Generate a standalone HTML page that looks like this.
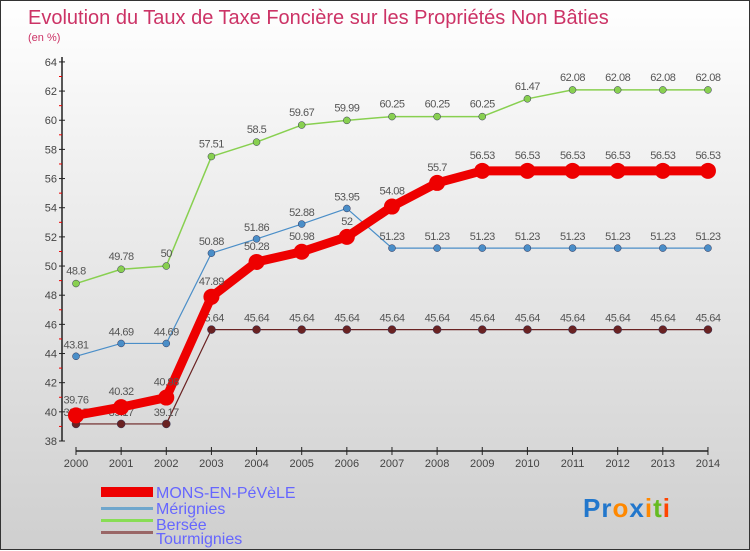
<!DOCTYPE html>
<html><head><meta charset="utf-8"><style>
body{margin:0;width:750px;height:550px;overflow:hidden;font-family:"Liberation Sans",sans-serif}
#wrap{position:relative;width:748px;height:548px;border:1px solid #333;background:linear-gradient(#ffffff,#f0f0f0 30%,#cfcfcf)}
svg{position:absolute;left:0;top:0}
</style></head><body>
<div id="wrap">
<svg id="c" width="750" height="550">
<text x="27" y="23" font-size="20" fill="#cc3366">Evolution du Taux de Taxe Foncière sur les Propriétés Non Bâties</text>
<text x="27" y="40" font-size="11" fill="#cc3366">(en %)</text>
<g>
<rect x="100" y="486" width="52" height="10" fill="#ee0000"/>
<text x="155" y="497" font-size="16" fill="#6666ff">MONS-EN-PéVèLE</text>
<rect x="100" y="506" width="52" height="3" fill="#6fa6cc"/>
<text x="155" y="513" font-size="16" fill="#6666ff">Mérignies</text>
<rect x="100" y="518" width="52" height="3" fill="#88dd55"/>
<text x="155" y="529" font-size="16" fill="#6666ff">Bersée</text>
<rect x="100" y="530" width="52" height="3" fill="#996666"/>
<text x="155" y="543" font-size="16" fill="#6666ff">Tourmignies</text>
</g>
<text x="582" y="516" font-size="26" font-weight="bold" letter-spacing="1"><tspan fill="#2277cc">Pr</tspan><tspan fill="#ff8800">o</tspan><tspan fill="#2277cc">x</tspan><tspan fill="#ff8800">i</tspan><tspan fill="#66bb22">t</tspan><tspan fill="#ff4400">i</tspan></text>
</svg>
</div>
<script>
const years=[2000,2001,2002,2003,2004,2005,2006,2007,2008,2009,2010,2011,2012,2013,2014];
const yTicks=[38,40,42,44,46,48,50,52,54,56,58,60,62,64];
const mons=[39.76,40.32,40.98,47.89,50.28,50.98,52,54.08,55.7,56.53,56.53,56.53,56.53,56.53,56.53];
const merignies=[43.81,44.69,44.69,50.88,51.86,52.88,53.95,51.23,51.23,51.23,51.23,51.23,51.23,51.23,51.23];
const bersee=[48.8,49.78,50,57.51,58.5,59.67,59.99,60.25,60.25,60.25,61.47,62.08,62.08,62.08,62.08];
const tourmignies=[39.17,39.17,39.17,45.64,45.64,45.64,45.64,45.64,45.64,45.64,45.64,45.64,45.64,45.64,45.64];
const svg=document.getElementById('c');const NS='http://www.w3.org/2000/svg';
const X=i=>75+i*45.14;const Y=v=>440-(v-38)*14.58;
function mk(t,a){const e=document.createElementNS(NS,t);for(const k in a)e.setAttribute(k,a[k]);svg.appendChild(e);return e;}
let e=mk('line',{x1:61,y1:56,x2:61,y2:440,stroke:'#222','stroke-width':1.5});


e=mk('line',{x1:75,y1:450,x2:707,y2:450,stroke:'#222','stroke-width':1.5});


yTicks.forEach((t,i)=>{
 mk('line',{x1:58,x2:64,y1:Y(t),y2:Y(t),stroke:'#222'});
 if(i<yTicks.length-1)mk('line',{x1:58,x2:61,y1:Y(t+1),y2:Y(t+1),stroke:'#e00'});
 const l=mk('text',{x:56,y:Y(t)+4,'font-size':11,'text-anchor':'end',fill:'#444'});l.textContent=t;
 
 
});
years.forEach((yr,i)=>{
 mk('line',{x1:X(i),x2:X(i),y1:446,y2:454,stroke:'#222'});
 const l=mk('text',{x:X(i),y:466,'font-size':11,'text-anchor':'middle',fill:'#444'});l.textContent=yr;
 
 
});
function series(d,name,col,w,r,off){
 const p=mk('polyline',{points:d.map((v,i)=>X(i)+','+Y(v)).join(' '),fill:'none',stroke:col,'stroke-width':w,'stroke-linejoin':'round'});
 
 
 d.forEach((v,i)=>{
  const c=mk('circle',{cx:X(i),cy:Y(v),r:r,fill:col,stroke:w>3?col:'#335',"stroke-width":w>3?0:0.5});
  
  
  const t=mk('text',{x:X(i),y:Y(v)+off,'font-size':11,'text-anchor':'middle',fill:'#555','letter-spacing':'-0.5'});t.textContent=v;
  
  
 });
}
series(tourmignies,'tourmignies','#6a2222',1.2,4,-8);
series(merignies,'merignies','#4a8ec8',1.2,3.5,-8);
series(bersee,'bersee','#88d050',1.5,3.5,-9);
series(mons,'mons','#ee0000',9,8,-12);
</script>
</body></html>
